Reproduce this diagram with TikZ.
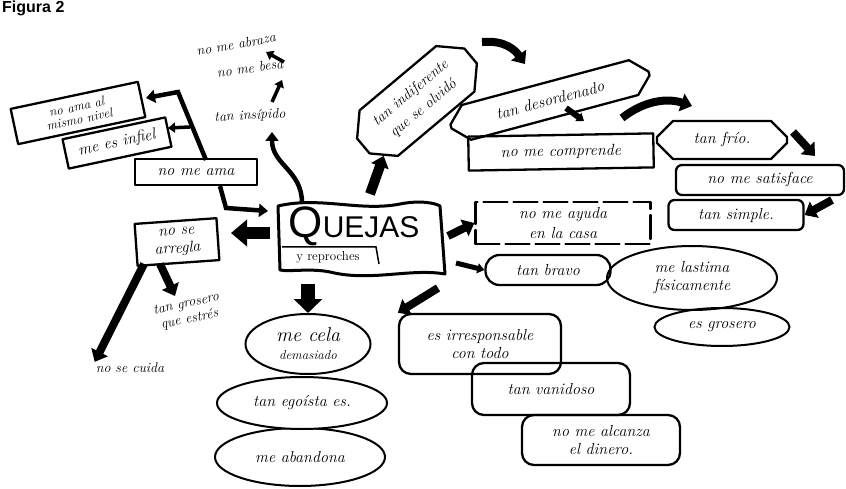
\documentclass[tikz,border=0pt]{standalone}
\usepackage{fontspec}
\newfontfamily\figfont{Liberation Sans}
\usetikzlibrary{arrows.meta,shapes.misc,shapes.geometric}
\newcommand{\hand}{\fontsize{16}{18}\selectfont\itshape}
\newcommand{\handsm}{\fontsize{14}{16}\selectfont\itshape}
\tikzset{
  ink/.style={line width=2.3pt, line join=round, line cap=round},
  hbox/.style={draw, ink, font=\hand, align=center, inner sep=3pt},
  cham/.style={chamfered rectangle, chamfered rectangle xsep=#1, chamfered rectangle ysep=#1},
  oval/.style={draw, ellipse, line width=2pt, font=\hand, align=center, inner sep=0pt},
  freetext/.style={font=\handsm, align=center, inner sep=1pt},
  blk/.style={line width=8pt, -{Triangle[width=18pt,length=11pt]}},
  mid/.style={line width=4.5pt, -{Triangle[width=13pt,length=9pt]}},
  thinar/.style={line width=3.5pt, -{Triangle[width=10pt,length=7pt]}}
}
\begin{document}
\begin{tikzpicture}[x=1pt,y=-1pt]
\useasboundingbox (0,0) rectangle (846,489);
\fill[white] (0,0) rectangle (846,489);

% title
\node[anchor=north west, font=\figfont\bfseries\fontsize{16}{16}\selectfont, inner sep=0pt] (title) at (2,1) {Figura 2};

% central banner
\draw[ink, line width=3pt] (278,206) .. controls (320,196) and (360,212) .. (400,204) .. controls (420,200) and (435,203) .. (440,206)
  -- (445,274) .. controls (410,268) and (370,282) .. (330,272) .. controls (310,268) and (290,272) .. (280,270) -- cycle;
\node[inner sep=0pt, font=\figfont\fontsize{44}{44}\selectfont] (quejas) at (354,226) {Q\fontsize{30}{30}\selectfont UEJAS};
\node[freetext, font=\fontsize{13}{13}\selectfont] (repro) at (328,257) {y reproches};
\draw[line width=1.5pt] (282,247) -- (376,247) -- (379,264);

% left side
\node[hbox, minimum width=122pt, minimum height=26pt] (noama) at (196,172) {no me ama};
\node[hbox, rotate=12, minimum width=130pt, minimum height=36pt, font=\fontsize{13}{13}\selectfont\itshape] (nivel) at (78,113) {no ama al\\mismo nivel};
\node[hbox, rotate=12, minimum width=105pt, minimum height=30pt] (infiel) at (117,143) {me es infiel};
\coordinate (qleftup) at (268,211);
\draw[mid] (noama.south) ++(24,0) coordinate (noamab) -- (226,208) -- (qleftup);
\coordinate (vtop) at (178,92);
\coordinate (vbot) at (206,160);
\coordinate (nivelR) at (146,98);
\draw[mid] (vbot) -- (vtop) -- (nivelR);
\coordinate (infielR) at (168,128);
\draw[thinar] (190,127) -- (infielR);

\node[freetext, rotate=10] (abraza) at (236,44) {no me abraza};
\node[freetext, rotate=8] (besa) at (250,68) {no me besa};
\node[freetext, rotate=3] (insipido) at (250,116) {tan insípido};
\coordinate (qtop) at (302,203);
\draw[mid] (qtop) .. controls (302,170) and (272,165) .. (272,132);
\coordinate (besaB) at (282,80);
\draw[thinar] (272,102) -- (besaB);
\coordinate (abrazaB) at (266,52);
\draw[thinar] (284,62) -- (abrazaB);

\coordinate (qleft) at (270,233);
\coordinate (arregR) at (231,233);
\draw[blk, line width=12pt, -{Triangle[width=26pt,length=16pt]}] (qleft) -- (arregR);
\node[hbox, rotate=4, minimum width=82pt, minimum height=42pt] (arregla) at (177,242) {no se\\arregla};
\node[freetext] (cuida) at (130,368) {no se cuida};
\node[freetext, rotate=12] (grosero) at (188,312) {tan grosero\\que estrés};
\draw[blk] (144,264) -- (cuida.north west);
\draw[blk] (160,264) -- (175,296);

% bottom ovals
\coordinate (qbot) at (308,284);
\node[oval, minimum width=170pt, minimum height=58pt] (oval3) at (300,457) {me abandona};
\node[oval, minimum width=170pt, minimum height=52pt, fill=white] (oval2) at (302,403) {tan egoísta es.};
\node[oval, minimum width=125pt, minimum height=60pt, fill=white] (oval1) at (308,344) {\fontsize{20}{20}\selectfont me cela\\\fontsize{13}{15}\selectfont demasiado};
\draw[blk, line width=14pt, -{Triangle[width=28pt,length=14pt]}] (qbot) -- (oval1.north);

% upper right
\coordinate (qtopr) at (370,194);
\node[hbox, cham=10pt, rotate=40, minimum width=140pt, minimum height=52pt, font=\fontsize{15}{20}\selectfont\itshape] (indif) at (417,101) {tan indiferente\\que se olvidó};
\draw[blk, line width=10pt] (qtopr) -- (indif.south west);
\node[hbox, cham=8pt, rotate=15, minimum width=205pt, minimum height=36pt] (desord) at (550,100) {tan desordenado};
\node[hbox, rotate=1, minimum width=185pt, minimum height=34pt] (comprende) at (561,152) {no me comprende};
\draw[blk] (482,42) .. controls (505,40) and (515,50) .. (525,64);
\draw[thinar, line width=6pt] (566,108) -- (584,121);
\node[hbox, cham=8pt, minimum width=130pt, minimum height=38pt] (frio) at (722,140) {tan frío.};
\draw[blk] (622,118) .. controls (645,100) and (668,98) .. (692,106);
\node[hbox, rounded corners=6pt, minimum width=168pt, minimum height=30pt] (satis) at (760,180) {no me satisface};
\draw[blk] (793,132) -- (815,156);
\node[hbox, rounded corners=6pt, minimum width=135pt, minimum height=30pt] (simple) at (736,215) {tan simple.};
\draw[blk] (832,200) -- (simple.east);

% right
\node[hbox, dashed, dash pattern=on 24pt off 6pt, minimum width=175pt, minimum height=42pt, font=\fontsize{16}{20}\selectfont\itshape] (ayuda) at (563,223) {no me ayuda\\en la casa};
\coordinate (qright) at (448,236);
\draw[blk] (qright) -- (ayuda.west);
\node[hbox, rounded corners=14pt, minimum width=125pt, minimum height=30pt] (bravo) at (548,270) {tan bravo};
\draw[thinar, line width=5pt] (456,263) -- (bravo.west);
\node[oval, minimum width=170pt, minimum height=64pt] (lastima) at (692,278) {me lastima\\físicamente};
\node[oval, minimum width=135pt, minimum height=38pt] (grosero2) at (722,327) {es grosero};

\node[hbox, rounded corners=12pt, minimum width=162pt, minimum height=60pt] (irresp) at (480,344) {es irresponsable\\con todo};
\draw[blk] (438,288) -- (irresp.north west);
\node[hbox, rounded corners=12pt, minimum width=158pt, minimum height=52pt] (vanid) at (551,389) {tan vanidoso};
\node[hbox, rounded corners=12pt, minimum width=158pt, minimum height=50pt] (dinero) at (601,440) {no me alcanza\\el dinero.};
\end{tikzpicture}
\end{document}
